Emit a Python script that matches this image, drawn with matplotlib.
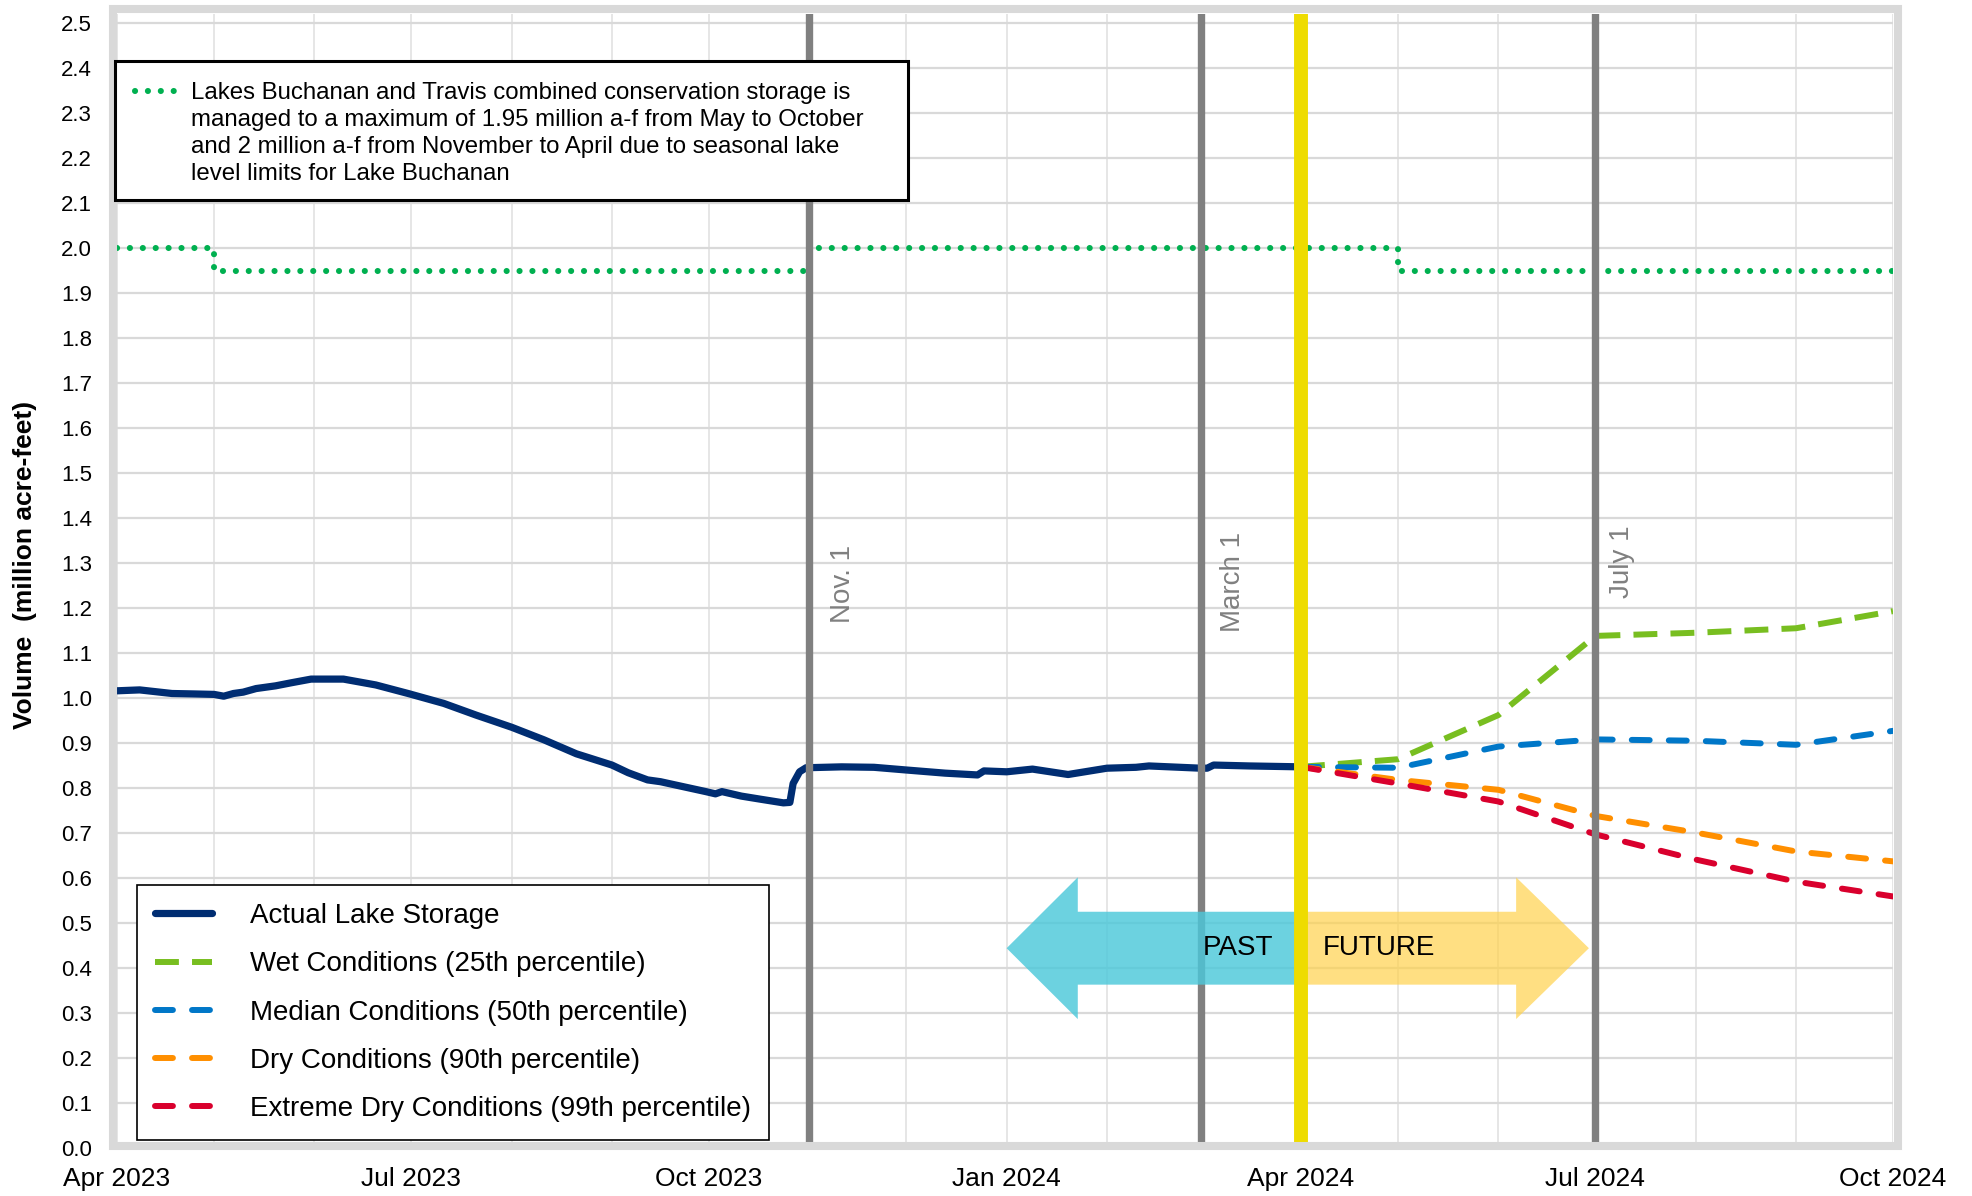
import matplotlib
matplotlib.use('Agg')
import matplotlib.pyplot as plt
import matplotlib.dates as mdates
from matplotlib.patches import Rectangle, FancyArrow
from matplotlib.lines import Line2D
import numpy as np
import pandas as pd

plt.rcParams['font.family'] = ['Liberation Sans', 'DejaVu Sans']

# ---------------- data ----------------
actual_dates = ['2023-04-01', '2023-04-08', '2023-04-18', '2023-04-25', '2023-05-01', '2023-05-04',
                '2023-05-07', '2023-05-10', '2023-05-14', '2023-05-20', '2023-05-25', '2023-05-31',
                '2023-06-10', '2023-06-20', '2023-06-30', '2023-07-11', '2023-07-21', '2023-08-01',
                '2023-08-11', '2023-08-21', '2023-09-01', '2023-09-06', '2023-09-12', '2023-09-16',
                '2023-09-30', '2023-10-03', '2023-10-05', '2023-10-11', '2023-10-17', '2023-10-24',
                '2023-10-26', '2023-10-27', '2023-10-29', '2023-10-31', '2023-11-11', '2023-11-21',
                '2023-12-01', '2023-12-13', '2023-12-23', '2023-12-25', '2024-01-01', '2024-01-09',
                '2024-01-20', '2024-02-01', '2024-02-10', '2024-02-14', '2024-03-01', '2024-03-03',
                '2024-03-05', '2024-03-16', '2024-04-01']
actual_values = [1.016, 1.018, 1.010, 1.009, 1.008, 1.004,
                 1.010, 1.013, 1.021, 1.027, 1.034, 1.042,
                 1.042, 1.029, 1.010, 0.988, 0.962, 0.935,
                 0.907, 0.876, 0.851, 0.834, 0.818, 0.814,
                 0.792, 0.787, 0.792, 0.782, 0.775, 0.767,
                 0.768, 0.810, 0.836, 0.845, 0.847, 0.846,
                 0.840, 0.833, 0.829, 0.838, 0.836, 0.842,
                 0.830, 0.844, 0.846, 0.849, 0.844, 0.844,
                 0.851, 0.849, 0.847]

forecast_dates = ['2024-04-01', '2024-05-01', '2024-06-01', '2024-07-01',
                  '2024-08-01', '2024-09-01', '2024-10-01']
wet_values = [0.847, 0.864, 0.962, 1.138, 1.145, 1.155, 1.193]
median_values = [0.847, 0.845, 0.892, 0.908, 0.905, 0.896, 0.927]
dry_values = [0.847, 0.818, 0.796, 0.738, 0.701, 0.659, 0.637]
extreme_values = [0.847, 0.810, 0.770, 0.697, 0.641, 0.592, 0.559]

cons_dates = ['2023-04-01', '2023-05-01', '2023-11-01', '2024-05-01', '2024-10-01']
cons_values = [2.0, 1.95, 2.0, 1.95, 1.95]

marker_dates = ['2023-11-01', '2024-03-01', '2024-07-01']
marker_labels = ['Nov. 1', 'March 1', 'July 1']
today_date = '2024-04-01'

xtick_dates = ['2023-04-01', '2023-07-01', '2023-10-01', '2024-01-01',
               '2024-04-01', '2024-07-01', '2024-10-01']
xtick_labels = ['Apr 2023', 'Jul 2023', 'Oct 2023', 'Jan 2024', 'Apr 2024', 'Jul 2024', 'Oct 2024']
ytick_values = [round(0.1 * i, 1) for i in range(26)]

series_labels = ['Actual Lake Storage', 'Wet Conditions (25th percentile)',
                 'Median Conditions (50th percentile)', 'Dry Conditions (90th percentile)',
                 'Extreme Dry Conditions (99th percentile)']
note_text = ('Lakes Buchanan and Travis combined conservation storage is\n'
             'managed to a maximum of 1.95 million a-f from May to October\n'
             'and 2 million a-f from November to April due to seasonal lake\n'
             'level limits for Lake Buchanan')

# ---------------- figure ----------------
W, H = 1972, 1196
fig = plt.figure(figsize=(W / 100, H / 100), dpi=100)
ax = fig.add_axes([117 / W, 1 - 1148 / H, 1776 / W, 1134 / H])

d = lambda s: mdates.date2num(pd.Timestamp(s))

ax.set_xlim(d('2023-04-01'), d('2024-10-01'))
ax.set_ylim(0, 2.52)

for sp in ax.spines.values():
    sp.set_visible(False)

ax.set_yticks(ytick_values)
ax.set_yticklabels([f'{v:.1f}' for v in ytick_values])
ax.set_xticks([d(s) for s in xtick_dates])
ax.set_xticklabels(xtick_labels)
ax.xaxis.set_minor_locator(mdates.MonthLocator())
ax.tick_params(axis='y', length=0, pad=18, labelsize=16)
ax.tick_params(axis='x', which='both', length=0, pad=14, labelsize=19)
ax.set_axisbelow(True)
ax.yaxis.grid(True, color='#d9d9d9', lw=1.6)
ax.xaxis.grid(True, which='both', color='#e2e2e2', lw=1.2)

ax.set_ylabel('Volume  (million acre-feet)', fontsize=19, fontweight='bold')
ax.yaxis.set_label_coords((25 - 117) / 1776, (1148 - 565) / 1134)
ax.yaxis.label.set_va('center')

cons_style = dict(color='#00B050', lw=4.4, linestyle=(0, (0.01, 2.1)), dash_capstyle='round')

# conservation storage limit
cons_x = [d(s) for s in cons_dates]
ax.plot(cons_x, cons_values, drawstyle='steps-post', zorder=3, **cons_style)

# actual storage
l_act, = ax.plot([d(s) for s in actual_dates], actual_values, color='#002D72', lw=5.2,
                 solid_joinstyle='round', solid_capstyle='round', zorder=3)

fx = [d(s) for s in forecast_dates]
l_wet, = ax.plot(fx, wet_values, color='#78BE20', lw=4.3, linestyle=(0, (4.0, 2.2)),
                 dash_capstyle='butt', zorder=3)
l_med, = ax.plot(fx, median_values, color='#0077C8', lw=4.3, linestyle=(0, (3.0, 3.2)),
                 dash_capstyle='round', zorder=3)
l_dry, = ax.plot(fx, dry_values, color='#FF8F00', lw=4.3, linestyle=(0, (3.0, 3.2)),
                 dash_capstyle='round', zorder=3)
l_ext, = ax.plot(fx, extreme_values, color='#D9002D', lw=4.3, linestyle=(0, (3.0, 3.2)),
                 dash_capstyle='round', zorder=3)

# vertical markers
label_offsets = [24, 23, 19]
label_y = [1.253, 1.258, 1.302]
for ds, lab, off, yy in zip(marker_dates, marker_labels, label_offsets, label_y):
    ax.axvline(d(ds), color='#808080', lw=5.3, zorder=4)
    ax.annotate(lab, xy=(d(ds), yy), xytext=(off, 0), textcoords='offset points',
                rotation=90, ha='center', va='center', fontsize=20, color='#808080', zorder=7)

# past / future arrows
t0 = d(today_date)
past = FancyArrow(t0, 0.444, d('2024-01-01') - t0, 0, width=0.162, head_width=0.315,
                  head_length=22, length_includes_head=True, fc='#4CC8DA', ec='none',
                  alpha=0.82, zorder=5)
fut = FancyArrow(t0, 0.444, d('2024-06-29') - t0, 0, width=0.162, head_width=0.315,
                 head_length=22.5, length_includes_head=True, fc='#FFD24D', ec='none',
                 alpha=0.7, zorder=5)
ax.add_patch(past)
ax.add_patch(fut)
ax.text(d('2024-03-12') + 0.5, 0.444, 'PAST', ha='center', va='center', fontsize=20, zorder=7)
ax.text(d('2024-04-25'), 0.444, 'FUTURE', ha='center', va='center', fontsize=20, zorder=7)

ax.axvline(t0, color='#EEDC00', lw=10, zorder=6)

# outer frame
fig.add_artist(Rectangle((113 / W, 1 - 1146 / H), (1897.5 - 113) / W, (1146 - 9) / H,
                         transform=fig.transFigure, fill=False, ec='#d9d9d9', lw=5.8))

# note box
fig.add_artist(Rectangle((115 / W, 1 - 200 / H), (908 - 115) / W, (200 - 61) / H,
                         transform=fig.transFigure, fc='white', ec='black', lw=2.2, zorder=8))
fig.add_artist(Line2D([135 / W, 180 / W], [1 - 91 / H, 1 - 91 / H], transform=fig.transFigure,
                      zorder=9, **cons_style))
fig.text(191 / W, 1 - 133.5 / H, note_text, ha='left', va='center', fontsize=17.3,
         linespacing=1.28, zorder=9)

# legend
leg = fig.legend([l_act, l_wet, l_med, l_dry, l_ext], series_labels, loc='upper left',
                 bbox_to_anchor=(137 / W, 1 - 885 / H), bbox_transform=fig.transFigure,
                 fontsize=20, frameon=True, fancybox=False, edgecolor='black', framealpha=1,
                 borderpad=0.65, labelspacing=0.8, handlelength=2.05, handletextpad=1.38,
                 borderaxespad=0)
leg.get_frame().set_linewidth(1.2)

fig.savefig('out.png', dpi=100)
